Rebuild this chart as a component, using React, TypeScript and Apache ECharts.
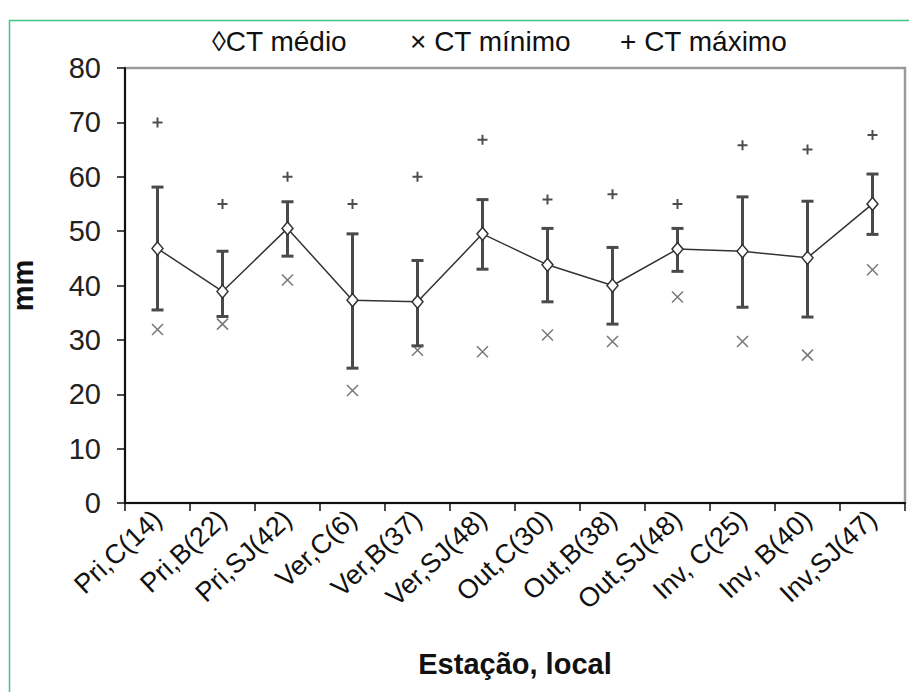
import React, { useEffect, useRef } from "react";
import * as echarts from "echarts";

const categories = [
  "Pri,C(14)", "Pri,B(22)", "Pri,SJ(42)", "Ver,C(6)", "Ver,B(37)", "Ver,SJ(48)",
  "Out,C(30)", "Out,B(38)", "Out,SJ(48)", "Inv, C(25)", "Inv, B(40)", "Inv,SJ(47)",
];
const ctMedio = [46.8, 38.9, 50.5, 37.3, 37.0, 49.5, 43.8, 40.0, 46.7, 46.3, 45.1, 55.0];
const errHigh = [58.1, 46.3, 55.4, 49.5, 44.6, 55.8, 50.5, 47.0, 50.5, 56.3, 55.5, 60.5];
const errLow = [35.5, 34.3, 45.4, 24.8, 28.9, 43.0, 37.0, 32.9, 42.6, 36.0, 34.2, 49.4];
const ctMinimo = [31.9, 32.9, 41.0, 20.7, 28.1, 27.8, 30.9, 29.7, 37.9, 29.7, 27.2, 42.9];
const ctMaximo = [70.0, 55.0, 60.0, 55.0, 60.0, 66.8, 55.8, 56.8, 55.0, 65.8, 65.0, 67.7];
const yTicks = { min: 0, max: 80, interval: 10 };
const legendLabels = ["◊CT médio", "× CT mínimo", "+ CT máximo"];

const FONT = "'Liberation Sans', Arial, sans-serif";

export default function App() {
  const ref = useRef<HTMLDivElement>(null);
  useEffect(() => {
    if (!ref.current) return;
    const chart = echarts.init(ref.current, undefined, { renderer: "svg" });
    const option: any = {
      animation: false,
      backgroundColor: "#ffffff",
      textStyle: { fontFamily: FONT },
      grid: {
        left: 120, right: 4, top: 68, bottom: 189,
        show: true, borderColor: "#9a9a9a", borderWidth: 2.5, backgroundColor: "transparent",
      },
      graphic: [
        {
          type: "rect", silent: true, z: -1,
          shape: { x: 9.5, y: 20.5, width: 960, height: 720 },
          style: { fill: "none", stroke: "#3cc785", lineWidth: 1.5 },
        },
        { type: "text", left: 212, top: 27, style: { text: legendLabels[0], font: `28px ${FONT}`, fill: "#111" } },
        { type: "text", left: 410, top: 27, style: { text: legendLabels[1], font: `28px ${FONT}`, fill: "#111" } },
        { type: "text", left: 620, top: 27, style: { text: legendLabels[2], font: `28px ${FONT}`, fill: "#111" } },
      ],
      xAxis: {
        type: "category",
        data: categories,
        boundaryGap: true,
        name: "Estação, local",
        nameLocation: "middle",
        nameGap: 146,
        nameTextStyle: { fontSize: 29, fontWeight: "bold", color: "#111", fontFamily: FONT },
        axisLine: { show: true, lineStyle: { color: "#111", width: 2 } },
        axisTick: { show: true, length: 8, lineStyle: { color: "#111", width: 1.5 } },
        axisLabel: { interval: 0, rotate: 43, fontSize: 27, color: "#111", margin: 12, fontFamily: FONT },
        splitLine: { show: false },
      },
      yAxis: {
        type: "value",
        min: yTicks.min, max: yTicks.max, interval: yTicks.interval,
        name: "mm",
        nameLocation: "middle",
        nameGap: 88,
        nameTextStyle: { fontSize: 29, fontWeight: "bold", color: "#111", fontFamily: FONT },
        axisLine: { show: true, lineStyle: { color: "#111", width: 2 } },
        axisTick: { show: true, length: 8, lineStyle: { color: "#111", width: 1.5 } },
        axisLabel: { fontSize: 29, color: "#222", margin: 24, fontFamily: FONT },
        splitLine: { show: false },
      },
      series: [
        {
          name: "erro",
          type: "custom",
          z: 1,
          data: categories.map((_, i) => [i, errLow[i], errHigh[i]]),
          encode: { x: 0, y: [1, 2] },
          renderItem: (params: any, api: any) => {
            const idx = api.value(0);
            const lo = api.coord([idx, api.value(1)]);
            const hi = api.coord([idx, api.value(2)]);
            const w = 6;
            const st = { stroke: "#4a4a4a", lineWidth: 3 };
            return {
              type: "group",
              children: [
                { type: "line", shape: { x1: lo[0], y1: lo[1], x2: hi[0], y2: hi[1] }, style: st },
                { type: "line", shape: { x1: hi[0] - w, y1: hi[1], x2: hi[0] + w, y2: hi[1] }, style: st },
                { type: "line", shape: { x1: lo[0] - w, y1: lo[1], x2: lo[0] + w, y2: lo[1] }, style: st },
              ],
            };
          },
        },
        {
          name: "CT médio",
          type: "line",
          z: 3,
          data: ctMedio,
          symbol: "diamond",
          symbolSize: [11, 13],
          lineStyle: { color: "#333", width: 1.5 },
          itemStyle: { color: "#ffffff", borderColor: "#333", borderWidth: 1.5 },
        },
        {
          name: "CT mínimo",
          type: "scatter",
          z: 2,
          data: ctMinimo,
          symbol: "path://M0,0L10,10M10,0L0,10",
          symbolSize: 11,
          itemStyle: { color: "none", borderColor: "#555", borderWidth: 1.5 },
        },
        {
          name: "CT máximo",
          type: "scatter",
          z: 2,
          data: ctMaximo,
          symbol: "path://M5,0L5,10M0,5L10,5",
          symbolSize: 10,
          itemStyle: { color: "none", borderColor: "#222", borderWidth: 2 },
        },
      ],
    };
    chart.setOption(option);
    return () => chart.dispose();
  }, []);
  return (
    <div
      ref={ref}
      style={{ position: "fixed", left: 0, top: 0, width: 909, height: 692, background: "#fff" }}
    />
  );
}
